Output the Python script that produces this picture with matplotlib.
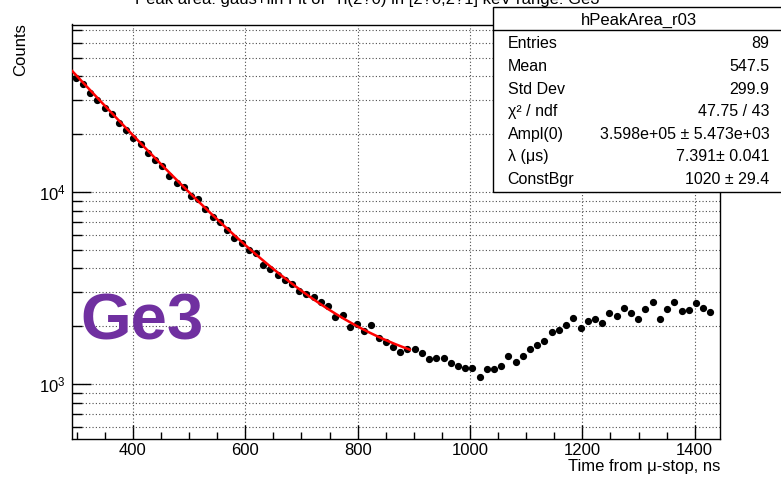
import numpy as np
import matplotlib
matplotlib.use("Agg")
import matplotlib.pyplot as plt
from matplotlib.patches import Rectangle
from matplotlib.lines import Line2D
from matplotlib.ticker import LogLocator, NullFormatter, MultipleLocator, FixedLocator, FixedFormatter

plt.rcParams['font.family'] = ['Liberation Sans', 'DejaVu Sans']
plt.rcParams['mathtext.fontset'] = 'custom'
plt.rcParams['mathtext.rm'] = 'Liberation Sans'
plt.rcParams['mathtext.it'] = 'Liberation Sans:italic'

# histogram binning (ns)
bin_first = 298.0
bin_width = 12.84

counts = [39400, 36380, 32920, 30150, 27280, 25380, 22970, 21030, 19030, 17710,
          16030, 14680, 13660, 12060, 11180, 10580, 9530, 9160, 8120, 7440,
          7010, 6340, 5740, 5450, 4990, 4790, 4167, 3957, 3695, 3480,
          3306, 3061, 2932, 2849, 2665, 2549, 2241, 2287, 1988, 2054,
          1888, 2029, 1742, 1661, 1564, 1468, 1521, 1527, 1445, 1345,
          1361, 1361, 1282, 1241, 1216, 1216, 1092, 1193, 1193, 1241,
          1399, 1306, 1399, 1516, 1596, 1675, 1861, 1911, 2029, 2199,
          1951, 2137, 2189, 2071, 2334, 2261, 2480, 2334, 2189, 2449,
          2665, 2189, 2459, 2684, 2408, 2429, 2652, 2488, 2380]

# fit result: Ampl(0)*exp(-lambda*t) + ConstBgr
fit_ampl = 3.598e5
fit_lambda = 7.391      # 1/us
fit_bgr = 1020.0
fit_lo, fit_hi = 292.0, 893.0

stat_names = ["Entries", "Mean", "Std Dev", "\u03c7\u00b2 / ndf", "Ampl(0)", "\u03bb (\u03bcs)", "ConstBgr"]
stat_values = ["89", "547.5", "299.9", "47.75 / 43", "3.598e+05 \u00b1 5.473e+03", "7.391\u00b1 0.041", "1020 \u00b1 29.4"]

title = "Peak area: gaus+lin Fit of  Ti(2?0) in [2?0,2?1] keV range: Ge3"

W, H = 781, 478
fig = plt.figure(figsize=(W / 100, H / 100), dpi=100)
ax = fig.add_axes([72.3 / W, 1 - 439 / H, (720.3 - 72.3) / W, (439 - 24.5) / H])

t = bin_first + bin_width * np.arange(len(counts))
y = np.array(counts, dtype=float)
ax.errorbar(t, y, yerr=np.sqrt(y), xerr=bin_width * 0.25, fmt='none', ecolor='#1010d0', elinewidth=0.9, zorder=3)
ax.plot(t, y, 'o', color='black', ms=4.2, zorder=4)

tf = np.linspace(fit_lo, fit_hi, 200)
ax.plot(tf, fit_ampl * np.exp(-fit_lambda * tf / 1000.0) + fit_bgr, color='red', lw=1.8, zorder=5)

ax.set_yscale('log')
ax.set_xlim(292, 1445.6)
ax.set_ylim(517, 74500)

ax.xaxis.set_major_locator(MultipleLocator(200))
ax.xaxis.set_minor_locator(MultipleLocator(50))
ax.yaxis.set_major_locator(FixedLocator([1e3, 1e4]))
ax.yaxis.set_major_formatter(FixedFormatter(["$10^3$", "$10^4$"]))
ax.yaxis.set_minor_locator(LogLocator(base=10, subs=np.arange(2, 10)))
ax.yaxis.set_minor_formatter(NullFormatter())

ax.tick_params(axis='x', which='major', direction='in', length=10, width=1, labelsize=12, pad=3)
ax.tick_params(axis='x', which='minor', direction='in', length=5, width=1)
ax.tick_params(axis='y', which='major', direction='in', length=14, width=1, labelsize=12, pad=5)
ax.tick_params(axis='y', which='minor', direction='in', length=7, width=1)

ax.grid(True, axis='x', which='major', ls=(0, (1, 2)), color='0.3', lw=0.8)
ax.grid(True, axis='y', which='both', ls=(0, (1, 2)), color='0.3', lw=0.8)
ax.set_axisbelow(True)
for s in ax.spines.values():
    s.set_linewidth(1)

fig.text(720 / W, 1 - 471.5 / H, "Time from \u03bc-stop, ns", ha='right', va='baseline', fontsize=12)
fig.text(21 / W, 1 - 50 / H, "Counts", rotation=90, ha='center', va='center', fontsize=12)
fig.text(80 / W, 1 - 340 / H, "Ge3", color='#7030A0', fontsize=47, fontweight='bold', va='baseline', ha='left')
fig.text(135 / W, 1 - 4 / H, title, ha='left', va='baseline', fontsize=12)

# stats box
bx0, by0, bx1, by1 = 493, 7, 786, 192
fig.add_artist(Rectangle((bx0 / W, 1 - by1 / H), (bx1 - bx0) / W, (by1 - by0) / H,
                         transform=fig.transFigure, facecolor='white', edgecolor='black', lw=1, zorder=10))
fig.add_artist(Line2D([bx0 / W, 1], [1 - 30 / H, 1 - 30 / H], transform=fig.transFigure, color='black', lw=1, zorder=11))
fig.text(639 / W, 1 - 25 / H, "hPeakArea_r03", ha='center', va='baseline', fontsize=12, zorder=12)
for i, (n, v) in enumerate(zip(stat_names, stat_values)):
    yb = 1 - (48.3 + 22.6 * i) / H
    fig.text(507.7 / W, yb, n, ha='left', va='baseline', fontsize=11.5, zorder=12)
    fig.text(769.3 / W, yb, v, ha='right', va='baseline', fontsize=11.5, zorder=12)

fig.savefig("out.png", dpi=100)
